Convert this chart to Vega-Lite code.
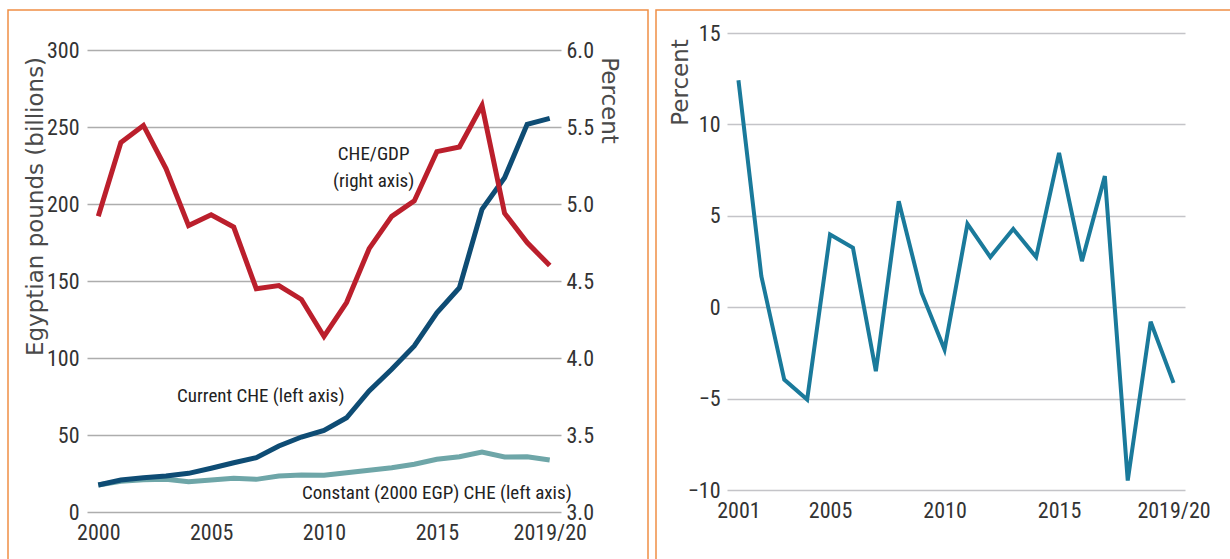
{
  "$schema": "https://vega.github.io/schema/vega-lite/v6.json",
  "background": "white",
  "padding": {"left": 7, "top": 9, "right": 0, "bottom": 0},
  "autosize": {"type": "pad"},
  "spacing": 6,
  "config": {
    "view": {"stroke": "#ef8f45", "strokeWidth": 1.5},
    "axis": {
      "labelFont": "Roboto Condensed, DejaVu Sans Condensed, Roboto",
      "labelFontSize": 22,
      "labelColor": "#333333",
      "titleFont": "DejaVu Sans",
      "titleFontSize": 23,
      "titleFontWeight": "normal",
      "titleColor": "#4a4a4a",
      "domain": false,
      "ticks": false,
      "gridColor": "#adadad",
      "gridWidth": 1.5,
      "labelFlush": false,
      "labelOverlap": false
    },
    "text": {"font": "Roboto Condensed, DejaVu Sans Condensed, Roboto", "fontSize": 19, "color": "#222222"}
  },
  "datasets": {
    "left": [
      {"year": 2000, "current": 17.5, "constant": 17.5, "che_gdp": 4.92},
      {"year": 2001, "current": 20.8, "constant": 20.0, "che_gdp": 5.40},
      {"year": 2002, "current": 22.3, "constant": 21.0, "che_gdp": 5.51},
      {"year": 2003, "current": 23.4, "constant": 21.2, "che_gdp": 5.23},
      {"year": 2004, "current": 25.1, "constant": 19.7, "che_gdp": 4.86},
      {"year": 2005, "current": 28.4, "constant": 20.8, "che_gdp": 4.93},
      {"year": 2006, "current": 32.0, "constant": 21.9, "che_gdp": 4.85},
      {"year": 2007, "current": 35.3, "constant": 21.2, "che_gdp": 4.45},
      {"year": 2008, "current": 42.9, "constant": 23.4, "che_gdp": 4.47},
      {"year": 2009, "current": 48.7, "constant": 24.0, "che_gdp": 4.38},
      {"year": 2010, "current": 53.0, "constant": 23.8, "che_gdp": 4.14},
      {"year": 2011, "current": 61.2, "constant": 25.5, "che_gdp": 4.36},
      {"year": 2012, "current": 78.6, "constant": 27.1, "che_gdp": 4.71},
      {"year": 2013, "current": 92.7, "constant": 28.8, "che_gdp": 4.92},
      {"year": 2014, "current": 107.8, "constant": 31.0, "che_gdp": 5.02},
      {"year": 2015, "current": 129.4, "constant": 34.2, "che_gdp": 5.34},
      {"year": 2016, "current": 145.6, "constant": 35.9, "che_gdp": 5.37},
      {"year": 2017, "current": 196.5, "constant": 39.0, "che_gdp": 5.64},
      {"year": 2018, "current": 217.0, "constant": 35.7, "che_gdp": 4.94},
      {"year": 2019, "current": 251.7, "constant": 35.9, "che_gdp": 4.75},
      {"year": 2020, "current": 255.6, "constant": 33.8, "che_gdp": 4.60}
    ],
    "right": [
      {"year": 2001, "growth": 12.42},
      {"year": 2002, "growth": 1.7},
      {"year": 2003, "growth": -3.96},
      {"year": 2004, "growth": -5.05},
      {"year": 2005, "growth": 3.98},
      {"year": 2006, "growth": 3.25},
      {"year": 2007, "growth": -3.5},
      {"year": 2008, "growth": 5.8},
      {"year": 2009, "growth": 0.78},
      {"year": 2010, "growth": -2.32},
      {"year": 2011, "growth": 4.56},
      {"year": 2012, "growth": 2.74},
      {"year": 2013, "growth": 4.28},
      {"year": 2014, "growth": 2.74},
      {"year": 2015, "growth": 8.44},
      {"year": 2016, "growth": 2.52},
      {"year": 2017, "growth": 7.17},
      {"year": 2018, "growth": -9.48},
      {"year": 2019, "growth": -0.8},
      {"year": 2020, "growth": -4.14}
    ]
  },
  "hconcat": [
    {
      "width": 640,
      "height": 556,
      "data": {"name": "left"},
      "encoding": {
        "x": {
          "field": "year",
          "type": "quantitative",
          "scale": {"domain": [1999.5, 2020.5], "range": [79, 553], "nice": false, "zero": false},
          "axis": {
            "orient": "bottom",
            "offset": -54,
            "grid": false,
            "values": [2000, 2005, 2010, 2015, 2020],
            "labelExpr": "datum.value == 2020 ? '2019/20' : datum.value",
            "labelPadding": 10,
            "title": null
          }
        }
      },
      "layer": [
        {
          "layer": [
            {
              "mark": {"type": "line", "color": "#6ea6a8", "strokeWidth": 5, "strokeJoin": "miter"},
              "encoding": {
                "y": {
                  "field": "constant",
                  "type": "quantitative",
                  "scale": {"domain": [0, 300], "range": [502, 40], "nice": false},
                  "axis": {
                    "orient": "left",
                    "offset": -79,
                    "values": [0, 50, 100, 150, 200, 250, 300],
                    "grid": true,
                    "labelPadding": 8,
                    "title": "Egyptian pounds (billions)",
                    "titleAngle": -90,
                    "titleAlign": "center",
                    "titleBaseline": "middle",
                    "titleX": -52,
                    "titleY": 196
                  }
                }
              }
            },
            {
              "mark": {"type": "line", "color": "#0e4c74", "strokeWidth": 5, "strokeJoin": "miter"},
              "encoding": {
                "y": {"field": "current", "type": "quantitative", "title": "Egyptian pounds (billions)"}
              }
            },
            {
              "transform": [{"filter": "datum.year == 2000"}],
              "mark": {"type": "text", "align": "center", "baseline": "middle"},
              "encoding": {
                "x": {"datum": 2007.2, "type": "quantitative"},
                "y": {"datum": 75.3, "type": "quantitative", "title": "Egyptian pounds (billions)"},
                "text": {"value": "Current CHE (left axis)"}
              }
            },
            {
              "transform": [{"filter": "datum.year == 2000"}],
              "mark": {"type": "text", "align": "center", "baseline": "middle"},
              "encoding": {
                "x": {"datum": 2015.0, "type": "quantitative"},
                "y": {"datum": 12.3, "type": "quantitative", "title": "Egyptian pounds (billions)"},
                "text": {"value": "Constant (2000 EGP) CHE (left axis)"}
              }
            },
            {
              "transform": [{"filter": "datum.year == 2000"}],
              "mark": {"type": "text", "align": "center", "baseline": "middle", "lineHeight": 27},
              "encoding": {
                "x": {"datum": 2012.2, "type": "quantitative"},
                "y": {"datum": 232.5, "type": "quantitative", "title": "Egyptian pounds (billions)"},
                "text": {"value": ["CHE/GDP", "(right axis)"]}
              }
            }
          ]
        },
        {
          "mark": {"type": "line", "color": "#bb1f2c", "strokeWidth": 5, "strokeJoin": "miter"},
          "encoding": {
            "y": {
              "field": "che_gdp",
              "type": "quantitative",
              "scale": {"domain": [3, 6], "range": [502, 40], "nice": false, "zero": false},
              "axis": {
                "orient": "right",
                "offset": -87,
                "values": [3, 3.5, 4, 4.5, 5, 5.5, 6],
                "format": ".1f",
                "grid": false,
                "labelPadding": 5,
                "title": "Percent",
                "titleAngle": 90,
                "titleAlign": "center",
                "titleBaseline": "middle",
                "titleX": 47,
                "titleY": 90
              }
            }
          }
        }
      ],
      "resolve": {"scale": {"y": "independent"}}
    },
    {
      "width": 580,
      "height": 556,
      "data": {"name": "right"},
      "mark": {"type": "line", "color": "#1a7a9b", "strokeWidth": 4, "strokeJoin": "miter"},
      "encoding": {
        "x": {
          "field": "year",
          "type": "quantitative",
          "scale": {"domain": [2000.5, 2020.5], "range": [71, 529], "nice": false, "zero": false},
          "axis": {
            "orient": "bottom",
            "offset": -76,
            "grid": false,
            "values": [2001, 2005, 2010, 2015, 2020],
            "labelExpr": "datum.value == 2020 ? '2019/20' : datum.value",
            "labelPadding": 10,
            "title": null
          }
        },
        "y": {
          "field": "growth",
          "type": "quantitative",
          "scale": {"domain": [-10, 15], "range": [480, 23], "nice": false, "zero": false},
          "axis": {
            "orient": "left",
            "offset": -71,
            "values": [-10, -5, 0, 5, 10, 15],
            "grid": true,
            "gridColor": "#c4c4c8",
            "labelPadding": 7,
            "title": "Percent",
            "titleAngle": -90,
            "titleAlign": "center",
            "titleBaseline": "middle",
            "titleX": -47,
            "titleY": 72
          }
        }
      }
    }
  ]
}
